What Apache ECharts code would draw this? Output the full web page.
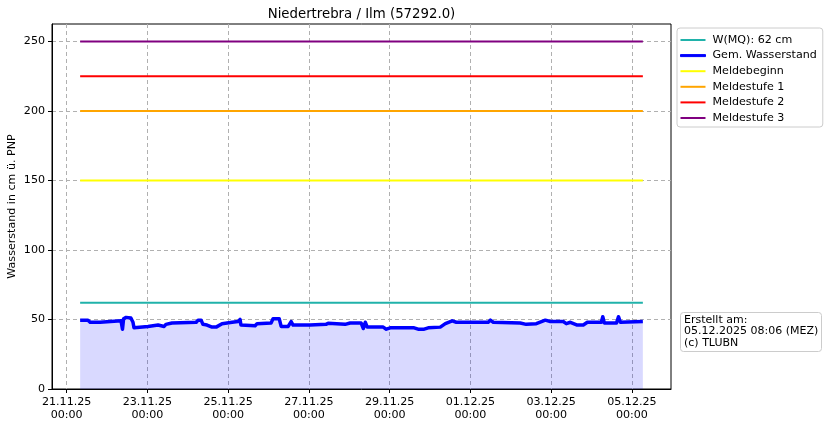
<!DOCTYPE html>
<html>
<head>
<meta charset="utf-8">
<script src="https://cdn.jsdelivr.net/npm/echarts@6/dist/echarts.min.js"></script>
<style>html,body{margin:0;padding:0;background:#fff}#c{width:829px;height:426px}</style>
</head>
<body>
<div id="c"></div>
<script>
// ---- data ----
const times = [
  '2025-11-21T08:00','2025-11-21T12:40','2025-11-21T13:55','2025-11-21T19:50','2025-11-21T21:00',
  '2025-11-22T08:20','2025-11-22T09:10','2025-11-22T09:50','2025-11-22T11:20','2025-11-22T14:10',
  '2025-11-22T15:25','2025-11-22T16:00','2025-11-22T17:10','2025-11-23T00:20','2025-11-23T01:30',
  '2025-11-23T06:20','2025-11-23T07:30','2025-11-23T09:55','2025-11-23T11:00','2025-11-23T14:35',
  '2025-11-24T05:00','2025-11-24T06:05','2025-11-24T07:55','2025-11-24T09:00','2025-11-24T11:25',
  '2025-11-24T14:25','2025-11-24T16:50','2025-11-24T20:20','2025-11-25T02:20','2025-11-25T05:55',
  '2025-11-25T07:05','2025-11-25T07:35','2025-11-25T16:00','2025-11-25T17:10','2025-11-26T01:30',
  '2025-11-26T02:40','2025-11-26T06:20','2025-11-26T07:30','2025-11-26T11:40','2025-11-26T13:25',
  '2025-11-26T14:35','2025-11-27T00:40','2025-11-27T10:10','2025-11-27T11:25','2025-11-27T12:35',
  '2025-11-27T21:30','2025-11-28T00:30','2025-11-28T07:00','2025-11-28T08:20','2025-11-28T09:30',
  '2025-11-28T10:40','2025-11-28T20:10','2025-11-28T22:00','2025-11-29T00:20','2025-11-29T14:30',
  '2025-11-29T16:55','2025-11-29T20:30','2025-11-29T22:55','2025-11-30T06:05','2025-11-30T09:05',
  '2025-11-30T13:10','2025-11-30T15:35','2025-12-01T10:35','2025-12-01T11:50','2025-12-01T13:35',
  '2025-12-02T05:35','2025-12-02T09:10','2025-12-02T15:10','2025-12-02T20:30','2025-12-02T23:30',
  '2025-12-03T07:10','2025-12-03T09:00','2025-12-03T11:25','2025-12-03T15:30','2025-12-03T19:05',
  '2025-12-03T21:30','2025-12-04T05:50','2025-12-04T06:40','2025-12-04T07:35','2025-12-04T14:50',
  '2025-12-04T16:00','2025-12-04T17:10','2025-12-05T06:30'
];
const levels = [
  49.5,49.5,48,48,49,
  49,43,50.5,51.5,51,
  48,44,45,45,46,
  46,45,45,46.5,47.5,
  48,49.5,49.5,46.5,46,
  44.5,44.5,47,48,48.5,
  50,46,45.5,47,47.5,
  50.5,50.5,45,45,48.5,
  46,46,46.5,47.3,46,
  46.5,47.5,47.5,43.5,48,
  44.5,44.5,43,44,44,
  43,43,44,44.5,47,
  49,48,48,49.5,48,
  47.5,46.5,47,49.5,48.5,
  48.5,47,48,46,46,
  48,48,52,47.5,47.5,
  52,48,48.5
];
const thresholdNames = ['W(MQ): 62 cm','Meldebeginn','Meldestufe 1','Meldestufe 2','Meldestufe 3'];
const thresholdValues = [62,150,200,225,250];
const thresholdColors = ['#20b2aa','#ffff00','#ffa500','#ff0000','#800080'];
const measuredName = 'Gem. Wasserstand';
const tickDays = ['2025-11-21','2025-11-23','2025-11-25','2025-11-27','2025-11-29','2025-12-01','2025-12-03','2025-12-05'];
const tickLabels = ['21.11.25\n00:00','23.11.25\n00:00','25.11.25\n00:00','27.11.25\n00:00','29.11.25\n00:00','01.12.25\n00:00','03.12.25\n00:00','05.12.25\n00:00'];
const yTicks = [0,50,100,150,200,250];
const yMax = 262.5;
const titleText = 'Niedertrebra / Ilm (57292.0)';
const yName = 'Wasserstand in cm ü. PNP';
const infoText = 'Erstellt am:\n05.12.2025 08:06 (MEZ)\n(c) TLUBN';

// ---- build ----
const ts = times.map(t => Date.parse(t + ':00Z'));
const t0 = ts[0], t1 = ts[ts.length - 1];
const margin = (t1 - t0) * 0.05;
const tickTs = tickDays.map(d => Date.parse(d + 'T00:00:00Z'));
const FS = 11.1;
const font = 'DejaVu Sans';

const series = [];
function hline(i) {
  return {
    name: thresholdNames[i], type: 'line', symbol: 'none', animation: false,
    lineStyle: { color: thresholdColors[i], width: 2 }, itemStyle: { color: thresholdColors[i] },
    data: [[t0, thresholdValues[i]], [t1, thresholdValues[i]]], z: 3
  };
}
series.push(hline(0));
series.push({
  name: measuredName, type: 'line', symbol: 'none', animation: false,
  lineStyle: { color: '#0000ff', width: 3.5, join: 'round' }, itemStyle: { color: '#0000ff' },
  areaStyle: { color: '#0000ff', opacity: 0.15 },
  data: ts.map((t, i) => [t, levels[i]]), z: 4
});
for (let i = 1; i < thresholdNames.length; i++) series.push(hline(i));

const legendData = [thresholdNames[0], measuredName, thresholdNames[1], thresholdNames[2], thresholdNames[3], thresholdNames[4]]
  .map(n => n === measuredName
    ? { name: n, icon: 'rect', itemStyle: { color: '#0000ff', borderColor: '#0000ff', borderWidth: 1 } }
    : { name: n, icon: 'rect' });

const chart = echarts.init(document.getElementById('c'), null, { renderer: 'canvas' });
chart.setOption({
  animation: false,
  backgroundColor: '#fff',
  textStyle: { fontFamily: font },
  grid: { left: 52, right: 158, top: 24, bottom: 37, show: true, borderColor: '#000', borderWidth: 1, backgroundColor: '#fff', containLabel: false, outerBoundsMode: 'none' },
  xAxis: {
    type: 'value', min: t0 - margin, max: t1 + margin,
    axisLine: { show: true, lineStyle: { color: '#000', width: 1 } },
    axisTick: { show: true, length: 4, lineStyle: { color: '#000' }, customValues: tickTs },
    axisLabel: {
      customValues: tickTs, color: '#000', fontSize: FS, fontFamily: font, margin: 7, lineHeight: 13,
      formatter: v => { const k = tickTs.indexOf(v); return k >= 0 ? tickLabels[k] : ''; }
    },
    splitLine: { show: true, lineStyle: { color: '#b0b0b0', type: [4, 3], width: 1 } }
  },
  yAxis: {
    type: 'value', min: 0, max: yMax,
    axisLine: { show: true, lineStyle: { color: '#000', width: 1 } },
    axisTick: { show: true, length: 4, lineStyle: { color: '#000' }, customValues: yTicks },
    axisLabel: { customValues: yTicks, color: '#000', fontSize: FS, fontFamily: font, margin: 7 },
    splitLine: { show: true, lineStyle: { color: '#b0b0b0', type: [4, 3], width: 1 } }
  },
  legend: {
    orient: 'vertical', left: 677, top: 28,
    padding: [5, 6, 2, 3], itemWidth: 25, itemHeight: 2, itemGap: 1.6,
    backgroundColor: '#fff', borderColor: '#cccccc', borderWidth: 1, borderRadius: 3,
    textStyle: { color: '#000', fontSize: FS, fontFamily: font, lineHeight: 14, padding: [0, 0, 0, 2] },
    data: legendData,
    selectedMode: false
  },
  graphic: [
    { type: 'text', x: 361.5, y: 15, style: { text: titleText, fill: '#000', font: '13.3px "DejaVu Sans"', textAlign: 'center', textVerticalAlign: 'middle' } },
    { type: 'text', x: 12, y: 206.5, rotation: Math.PI / 2, style: { text: yName, fill: '#000', font: FS + 'px "DejaVu Sans"', textAlign: 'center', textVerticalAlign: 'middle' } },
    { type: 'rect', x: 680.5, y: 312.5, shape: { width: 141, height: 39, r: 3 }, style: { fill: '#fff', stroke: '#cccccc', lineWidth: 1 } },
    { type: 'text', x: 684, y: 314, style: { text: infoText, fill: '#000', font: '11px "DejaVu Sans"', lineHeight: 11.6, textAlign: 'left', textVerticalAlign: 'top' } }
  ],
  series: series
});
</script>
</body>
</html>
